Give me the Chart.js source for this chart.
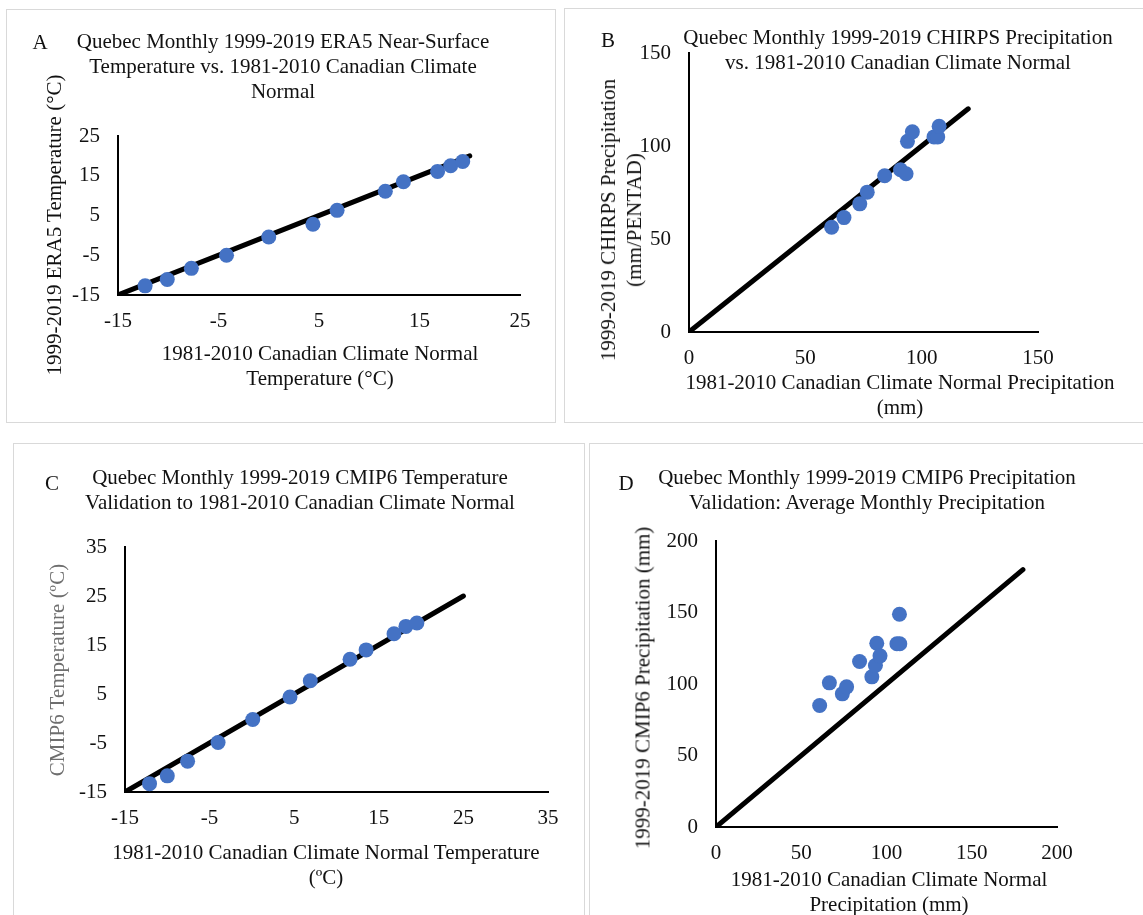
<!DOCTYPE html>
<html>
<head>
<meta charset="utf-8">
<script src="https://cdn.jsdelivr.net/npm/chart.js@4.4.1/dist/chart.umd.min.js"></script>
<style>
  body { margin: 0; background: #fff; }
  #page { position: relative; width: 1143px; height: 915px; overflow: hidden; font-family: "Liberation Serif", "Times New Roman", serif; color: #111; }
  canvas { position: absolute; left: 0; top: 0; }
  .box { position: absolute; border: 1px solid #d9d9d9; box-sizing: border-box; }
  .txt { position: absolute; transform: translate(-50%, -50%); white-space: nowrap; font-size: 21px; line-height: 25px; text-align: center; }
  .rot { transform: translate(-50%, -50%) rotate(-90deg); }
</style>
</head>
<body>
<div id="page">
  <div class="box" style="left:6px;top:9px;width:550px;height:414px"></div>
  <div class="box" style="left:564px;top:8px;width:590px;height:415px"></div>
  <div class="box" style="left:13px;top:443px;width:572px;height:480px"></div>
  <div class="box" style="left:589px;top:443px;width:565px;height:480px"></div>

  <canvas id="chartA" width="1143" height="915"></canvas>
  <canvas id="chartB" width="1143" height="915"></canvas>
  <canvas id="chartC" width="1143" height="915"></canvas>
  <canvas id="chartD" width="1143" height="915"></canvas>

  <div class="txt" style="left:40px;top:42px">A</div>
  <div class="txt" style="left:283px;top:66px">Quebec Monthly 1999-2019 ERA5 Near-Surface<br>Temperature vs. 1981-2010 Canadian Climate<br>Normal</div>
  <div class="txt rot" style="left:54px;top:225px">1999-2019 ERA5 Temperature (°C)</div>
  <div class="txt" style="left:320px;top:366px">1981-2010 Canadian Climate Normal<br>Temperature (°C)</div>

  <div class="txt" style="left:608px;top:40px">B</div>
  <div class="txt" style="left:898px;top:50px">Quebec Monthly 1999-2019 CHIRPS Precipitation<br>vs. 1981-2010 Canadian Climate Normal</div>
  <div class="txt rot" style="left:621px;top:220px;line-height:26px">1999-2019 CHIRPS Precipitation<br>(mm/PENTAD)</div>
  <div class="txt" style="left:900px;top:395px">1981-2010 Canadian Climate Normal Precipitation<br>(mm)</div>

  <div class="txt" style="left:52px;top:483px">C</div>
  <div class="txt" style="left:300px;top:490px">Quebec Monthly 1999-2019 CMIP6 Temperature<br>Validation to 1981-2010 Canadian Climate Normal</div>
  <div class="txt rot" style="left:57px;top:670px;color:#6e6e6e">CMIP6 Temperature (ºC)</div>
  <div class="txt" style="left:326px;top:865px">1981-2010 Canadian Climate Normal Temperature<br>(ºC)</div>

  <div class="txt" style="left:626px;top:483px">D</div>
  <div class="txt" style="left:867px;top:490px">Quebec Monthly 1999-2019 CMIP6 Precipitation<br>Validation: Average Monthly Precipitation</div>
  <div class="txt rot" style="left:643px;top:688px">1999-2019 CMIP6 Precipitation (mm)</div>
  <div class="txt" style="left:889px;top:892px">1981-2010 Canadian Climate Normal<br>Precipitation (mm)</div>
</div>

<script>
// A: ERA5 vs normal temperature
const normalTempA = [-12.3, -10.1, -7.7, -4.2, 0.0, 4.4, 6.8, 11.6, 13.4, 16.8, 18.1, 19.3];
const era5Temp = [-12.7, -11.1, -8.3, -5.0, -0.4, 2.8, 6.3, 11.1, 13.5, 16.1, 17.5, 18.6];
const refLineA = [-15, 20];

// B: CHIRPS vs normal precipitation
const normalPrecipB = [61.3, 66.6, 73.4, 76.6, 84.1, 90.9, 93.3, 93.9, 96.0, 105.3, 106.9, 107.5];
const chirpsPrecip = [56.3, 61.5, 68.9, 75.2, 84.0, 87.2, 85.1, 102.5, 107.6, 104.9, 104.9, 110.6];
const refLineB = [0, 120];

// C: CMIP6 vs normal temperature
const normalTempC = [-12.1, -10.0, -7.6, -4.0, 0.1, 4.5, 6.9, 11.6, 13.5, 16.8, 18.2, 19.5];
const cmip6Temp = [-13.3, -11.7, -8.7, -4.9, -0.2, 4.4, 7.7, 12.1, 14.0, 17.3, 18.8, 19.5];
const refLineC = [-15, 25];

// D: CMIP6 vs normal precipitation
const normalPrecipD = [60.8, 66.5, 74.1, 76.6, 84.2, 91.4, 93.5, 94.3, 96.2, 106.1, 107.8, 107.6];
const cmip6Precip = [85.0, 100.8, 93.1, 98.0, 115.7, 105.0, 112.9, 128.5, 119.7, 128.1, 128.1, 148.8];
const refLineD = [0, 180];

const W = 1143, H = 915;
const Y_W = 60, X_H = 40;

function pairs(xs, ys) {
    return xs.map((x, i) => ({ x: x, y: ys[i] }));
}

function makeChart(id, xs, ys, ref, range, step, area) {
    const tickFont = { family: 'Liberation Serif', size: 21 };
    new Chart(document.getElementById(id), {
        type: 'scatter',
        data: {
            datasets: [
                {
                    data: pairs(xs, ys),
                    backgroundColor: '#4472c4',
                    borderWidth: 0,
                    pointRadius: 7.5,
                    pointHoverRadius: 7.5
                },
                {
                    data: pairs(ref, ref),
                    showLine: true,
                    borderColor: '#000',
                    borderWidth: 5,
                    borderCapStyle: 'round',
                    pointRadius: 0
                }
            ]
        },
        options: {
            responsive: false,
            animation: false,
            devicePixelRatio: 1,
            layout: {
                padding: { left: area.l - Y_W, top: area.t, right: W - area.r, bottom: H - area.b - X_H }
            },
            plugins: { legend: { display: false }, tooltip: { enabled: false } },
            scales: {
                x: {
                    min: range[0], max: range[1],
                    ticks: { stepSize: step, font: tickFont, color: '#111', padding: 14, maxRotation: 0 },
                    grid: { display: false, drawTicks: false },
                    border: { color: '#000', width: 2 },
                    afterFit: s => { s.height = X_H; }
                },
                y: {
                    min: range[0], max: range[1],
                    ticks: { stepSize: step, font: tickFont, color: '#111', padding: 18 },
                    grid: { display: false, drawTicks: false },
                    border: { color: '#000', width: 2 },
                    afterFit: s => { s.width = Y_W; }
                }
            }
        }
    });
}

makeChart('chartA', normalTempA, era5Temp, refLineA, [-15, 25], 10, { l: 118, t: 136, r: 520, b: 295 });
makeChart('chartB', normalPrecipB, chirpsPrecip, refLineB, [0, 150], 50, { l: 689, t: 53, r: 1038, b: 332 });
makeChart('chartC', normalTempC, cmip6Temp, refLineC, [-15, 35], 10, { l: 125, t: 547, r: 548, b: 792 });
makeChart('chartD', normalPrecipD, cmip6Precip, refLineD, [0, 200], 50, { l: 716, t: 541, r: 1057, b: 827 });
</script>
</body>
</html>
